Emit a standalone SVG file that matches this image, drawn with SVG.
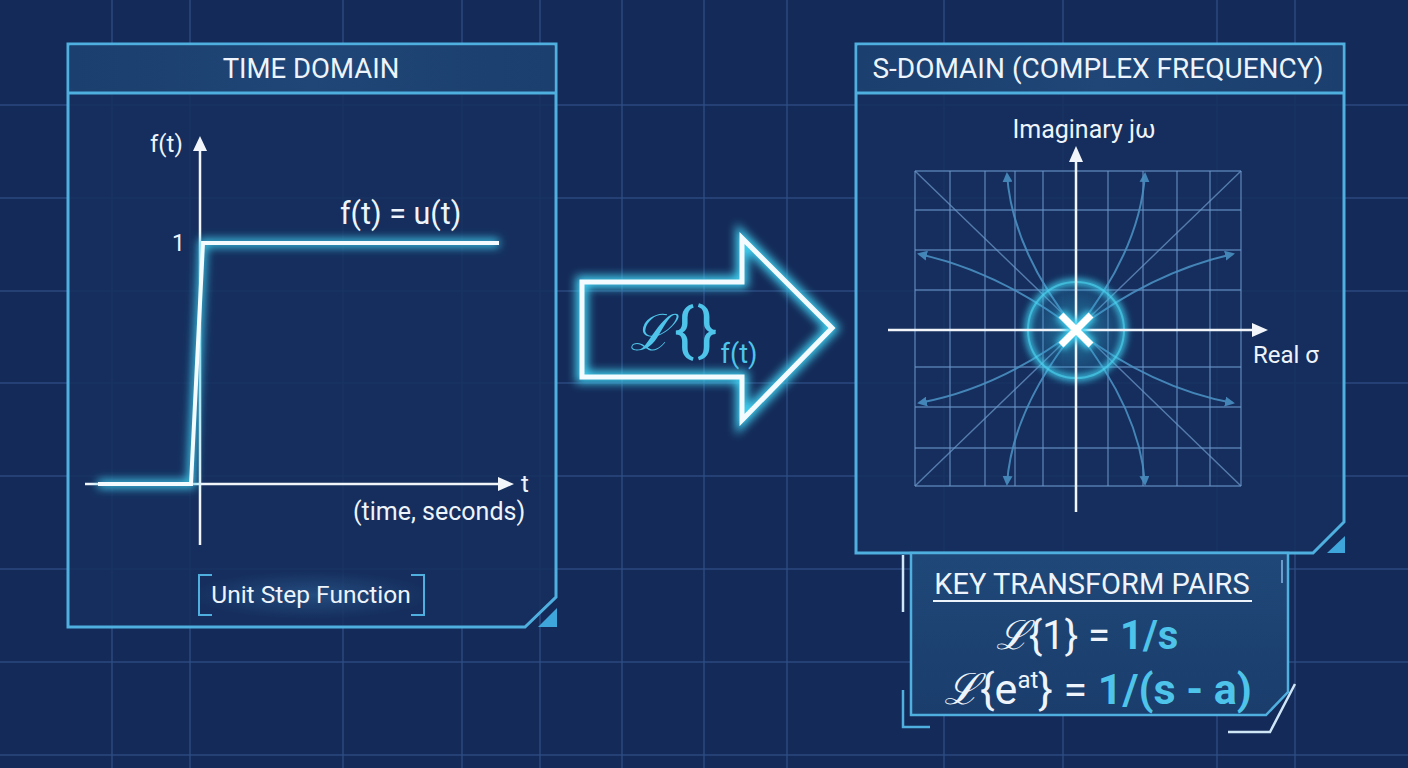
<svg xmlns="http://www.w3.org/2000/svg" width="1408" height="768" viewBox="0 0 1408 768">
<defs>
<style>
.bg{fill:#142a58}
.grid line{stroke:#2f5187;stroke-width:1.5;opacity:0.8}
.panel{fill:#152f5e;stroke:#4fb0e0;stroke-width:3}
.hdr{fill:url(#hdrg)}
.edge{fill:none;stroke:#4fb0e0;stroke-width:3}
.tri{fill:#3fa6dc}
.t{font-family:Roboto,"Liberation Sans",sans-serif;fill:#eef4fb}
.cy{fill:#4ec4ea}
.ax{stroke:#f2f6fb;stroke-width:2.5;fill:none}
.ah{fill:#f2f6fb}
.sg line{stroke:#6a95c8;stroke-width:1.4;opacity:0.75}
.fl{fill:none;stroke:#4a8fc2;stroke-width:2;opacity:0.9}
.scr{font-family:"DejaVu Serif",serif;font-style:italic}
</style>
<linearGradient id="hdrg" x1="0" y1="0" x2="1" y2="0">
<stop offset="0" stop-color="#1b3f6e"/><stop offset="0.5" stop-color="#1f4677"/><stop offset="1" stop-color="#1b3f6e"/>
</linearGradient>
<linearGradient id="keyg" x1="0" y1="0" x2="0" y2="1">
<stop offset="0" stop-color="#1f4878"/><stop offset="1" stop-color="#1a3d6c"/>
</linearGradient>
<radialGradient id="pole" cx="0.5" cy="0.5" r="0.5">
<stop offset="0" stop-color="#2fb6d8" stop-opacity="0.55"/>
<stop offset="0.6" stop-color="#2a9cc8" stop-opacity="0.25"/>
<stop offset="1" stop-color="#2a9cc8" stop-opacity="0"/>
</radialGradient>
<radialGradient id="lblglow" cx="0.5" cy="0.5" r="0.5">
<stop offset="0" stop-color="#2a5a8e" stop-opacity="0.7"/>
<stop offset="1" stop-color="#2a5a8e" stop-opacity="0"/>
</radialGradient>
<filter id="glow" x="-20%" y="-20%" width="140%" height="140%">
<feGaussianBlur stdDeviation="5"/>
</filter>
<filter id="soft" x="-50%" y="-50%" width="200%" height="200%">
<feGaussianBlur stdDeviation="3"/>
</filter>
<marker id="fa" viewBox="0 0 10 10" refX="8" refY="5" markerWidth="5" markerHeight="5" orient="auto">
<path d="M0,0 L10,5 L0,10 z" fill="#4a8fc2"/>
</marker>
</defs>

<rect class="bg" x="0" y="0" width="1408" height="768"/>
<g class="grid">
<line x1="112" y1="0" x2="112" y2="768"/>
<line x1="190" y1="0" x2="190" y2="768"/>
<line x1="343" y1="0" x2="343" y2="768"/>
<line x1="462" y1="0" x2="462" y2="768"/>
<line x1="540" y1="0" x2="540" y2="768"/>
<line x1="622" y1="0" x2="622" y2="768"/>
<line x1="704" y1="0" x2="704" y2="768"/>
<line x1="787" y1="0" x2="787" y2="768"/>
<line x1="944" y1="0" x2="944" y2="768"/>
<line x1="1063" y1="0" x2="1063" y2="768"/>
<line x1="1217" y1="0" x2="1217" y2="768"/>
<line x1="1295" y1="0" x2="1295" y2="768"/>
<line x1="0" y1="105" x2="1408" y2="105"/>
<line x1="0" y1="198" x2="1408" y2="198"/>
<line x1="0" y1="291" x2="1408" y2="291"/>
<line x1="0" y1="383" x2="1408" y2="383"/>
<line x1="0" y1="476" x2="1408" y2="476"/>
<line x1="0" y1="569" x2="1408" y2="569"/>
<line x1="0" y1="662" x2="1408" y2="662"/>
<line x1="0" y1="755" x2="1408" y2="755"/>
</g>

<g id="time-domain">
<path class="panel" d="M68,44 H556 V597 L525,627 H68 Z" fill-opacity="0.85"/>
<rect class="hdr" x="69.5" y="45.5" width="485" height="47"/>
<line class="edge" x1="68" y1="93" x2="556" y2="93"/>
<path class="tri" d="M538,627 L557,608 L557,627 Z"/>
<text class="t" x="311" y="78" font-size="27.5" text-anchor="middle">TIME DOMAIN</text>
<line class="ax" x1="200" y1="148" x2="200" y2="545"/>
<path class="ah" d="M200,136 L207,151 L193,151 Z"/>
<line class="ax" x1="85" y1="484" x2="500" y2="484"/>
<path class="ah" d="M514,484 L498,477 L498,491 Z"/>
<text class="t" x="150" y="152" font-size="24">f(t)</text>
<text class="t" x="172" y="251" font-size="23">1</text>
<text class="t" x="521" y="492" font-size="24">t</text>
<text class="t" x="353" y="520" font-size="25">(time, seconds)</text>
<text class="t" x="340" y="224" font-size="30.5">f(t) = u(t)</text>
<path d="M98,484 H191 L203,243 H499" fill="none" stroke="#3fd0f0" stroke-width="8" filter="url(#glow)"/>
<path d="M98,484 H191 L203,243 H499" fill="none" stroke="#f4fbff" stroke-width="4"/>
<ellipse cx="311" cy="595" rx="120" ry="24" fill="url(#lblglow)"/>
<path d="M212,575 H199 V615 H212 M411,575 H424 V615 H411" fill="none" stroke="#4fb0e0" stroke-width="2"/>
<text class="t" x="311" y="603" font-size="24.5" text-anchor="middle">Unit Step Function</text>
</g>

<g id="connectors">
<path d="M582,282 H742 V238 L832,328 L742,420 V377 H582 Z" fill="none" stroke="#3fd0f0" stroke-width="12" filter="url(#glow)"/>
<path d="M582,282 H742 V238 L832,328 L742,420 V377 H582 Z" fill="none" stroke="#f4fbff" stroke-width="5" stroke-linejoin="miter"/>
<text x="630" y="350" font-size="50" fill="#4ec4ea"><tspan class="scr">ℒ</tspan><tspan font-family="Roboto,'Liberation Sans',sans-serif" font-size="60" dx="2" letter-spacing="3">{}</tspan><tspan font-family="Roboto,'Liberation Sans',sans-serif" font-size="27" dy="13" dx="0">f(t)</tspan></text>
</g>

<g id="s-domain">
<path class="panel" d="M856,44 H1344 V522 L1313,553 H856 Z" fill-opacity="0.85"/>
<rect class="hdr" x="857.5" y="45.5" width="485" height="47"/>
<line class="edge" x1="856" y1="93" x2="1344" y2="93"/>
<path class="tri" d="M1327,553 L1345,536 L1345,553 Z"/>
<text class="t" x="1098" y="78" font-size="28" text-anchor="middle">S-DOMAIN (COMPLEX FREQUENCY)</text>
<text class="t" x="1084" y="138" font-size="25" text-anchor="middle">Imaginary jω</text>
<text class="t" x="1253" y="363" font-size="24">Real σ</text>
<g class="sg">
<line x1="915" y1="171" x2="1241" y2="171"/>
<line x1="915" y1="210" x2="1241" y2="210"/>
<line x1="915" y1="250" x2="1241" y2="250"/>
<line x1="915" y1="290" x2="1241" y2="290"/>
<line x1="915" y1="367" x2="1241" y2="367"/>
<line x1="915" y1="407" x2="1241" y2="407"/>
<line x1="915" y1="448" x2="1241" y2="448"/>
<line x1="915" y1="486" x2="1241" y2="486"/>
<line x1="915" y1="171" x2="915" y2="486"/>
<line x1="950" y1="171" x2="950" y2="486"/>
<line x1="985" y1="171" x2="985" y2="486"/>
<line x1="1015" y1="171" x2="1015" y2="486"/>
<line x1="1043" y1="171" x2="1043" y2="486"/>
<line x1="1108" y1="171" x2="1108" y2="486"/>
<line x1="1143" y1="171" x2="1143" y2="486"/>
<line x1="1177" y1="171" x2="1177" y2="486"/>
<line x1="1210" y1="171" x2="1210" y2="486"/>
<line x1="1241" y1="171" x2="1241" y2="486"/>
<line x1="915" y1="171" x2="1241" y2="486"/>
<line x1="1241" y1="171" x2="915" y2="486"/>
</g>
<g>
<path class="fl" marker-end="url(#fa)" d="M1076,330 Q1012,250 1007,174"/>
<path class="fl" marker-end="url(#fa)" d="M1076,330 Q1140,250 1145,174"/>
<path class="fl" marker-end="url(#fa)" d="M1076,330 Q1012,410 1007,484"/>
<path class="fl" marker-end="url(#fa)" d="M1076,330 Q1140,410 1145,484"/>
<path class="fl" marker-end="url(#fa)" d="M1076,330 Q1000,272 919,254"/>
<path class="fl" marker-end="url(#fa)" d="M1076,330 Q1152,272 1233,254"/>
<path class="fl" marker-end="url(#fa)" d="M1076,330 Q1000,388 919,403"/>
<path class="fl" marker-end="url(#fa)" d="M1076,330 Q1152,388 1233,403"/>
</g>
<circle cx="1076" cy="330" r="60" fill="url(#pole)"/>
<circle cx="1076" cy="330" r="48" fill="none" stroke="#3fd0f0" stroke-width="6" filter="url(#soft)" opacity="0.9"/>
<circle cx="1076" cy="330" r="48" fill="none" stroke="#4fd6f0" stroke-width="2" opacity="0.6"/>
<line class="ax" x1="1076" y1="160" x2="1076" y2="512"/>
<path class="ah" d="M1076,146 L1083,162 L1069,162 Z"/>
<line class="ax" x1="888" y1="330" x2="1254" y2="330"/>
<path class="ah" d="M1268,330 L1252,323 L1252,337 Z"/>
<path d="M1060,314 L1092,346 M1092,314 L1060,346" stroke="#3fd0f0" stroke-width="12" filter="url(#soft)"/>
<path d="M1061,315 L1091,345 M1091,315 L1061,345" stroke="#ffffff" stroke-width="7"/>
</g>

<g id="key-pairs">
<path d="M911,553 H1288 V692 L1266,715 H911 Z" fill="url(#keyg)" stroke="#4fb0e0" stroke-width="2.5"/>
<path d="M903,555 V612" stroke="#cfe6f7" stroke-width="2.5" fill="none"/>
<path d="M903,690 V727 H930" stroke="#4fb0e0" stroke-width="2.5" fill="none"/>
<path d="M1295,684 L1270,732 H1228" stroke="#cfe6f7" stroke-width="2.5" fill="none"/>
<path d="M1282,560 V583" stroke="#6a9ccc" stroke-width="2" fill="none"/>
<text class="t" x="1092" y="594" font-size="29" text-anchor="middle">KEY TRANSFORM PAIRS</text>
<line x1="933" y1="601" x2="1252" y2="601" stroke="#eef4fb" stroke-width="2"/>
<text class="t" x="1087" y="649" font-size="40" text-anchor="middle"><tspan class="scr">ℒ</tspan><tspan>{1} = </tspan><tspan class="cy" font-weight="bold">1/s</tspan></text>
<text class="t" x="1098" y="704" font-size="43" text-anchor="middle"><tspan class="scr">ℒ</tspan><tspan>{e</tspan><tspan font-size="24" dy="-16">at</tspan><tspan dy="16">} = </tspan><tspan class="cy" font-weight="bold">1/(s - a)</tspan></text>
</g>
</svg>
